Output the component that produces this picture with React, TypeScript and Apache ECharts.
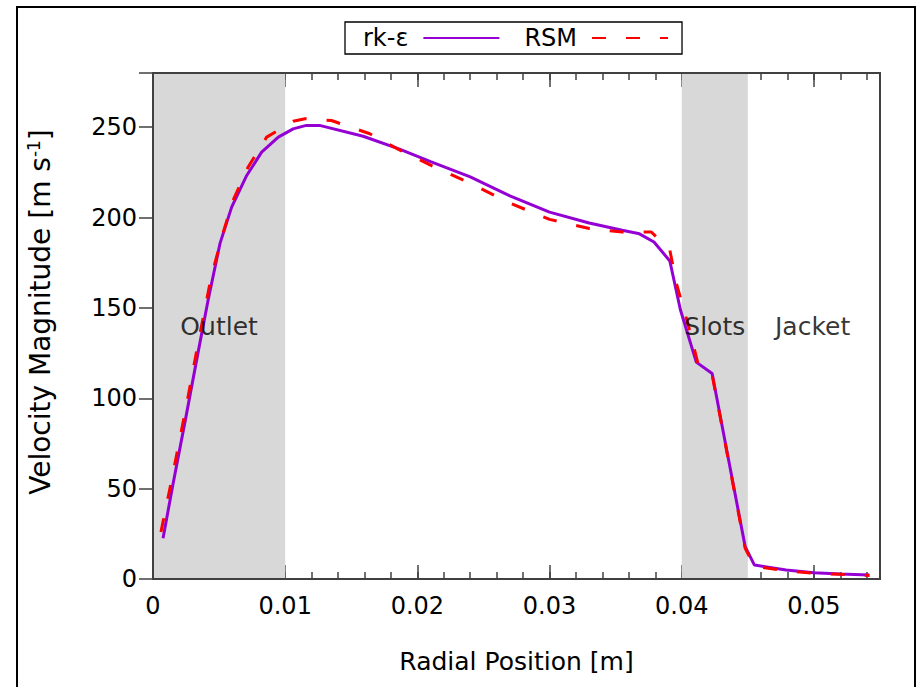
import React, { useEffect, useRef } from "react";
import * as echarts from "echarts";

// rk-epsilon model: radial position [m] and velocity magnitude [m/s]
const rkX = [0.00076, 0.0015, 0.0025, 0.0034, 0.00416, 0.00507, 0.00595, 0.00709, 0.00822, 0.00948, 0.0106, 0.0116, 0.0126, 0.0159, 0.0186, 0.021, 0.024, 0.027, 0.03, 0.033, 0.0355, 0.0368, 0.0379, 0.0391, 0.0399, 0.0411, 0.0423, 0.0435, 0.0448, 0.0455, 0.0479, 0.05, 0.052, 0.0542];
const rkV = [22.6, 52, 90, 125, 154, 185.7, 205.8, 223.3, 236.2, 244.5, 249.1, 251, 251, 245, 238, 231, 222.5, 212, 203, 197, 193, 191, 186.5, 176, 149, 120, 113.7, 67.6, 17.9, 7.7, 5, 3.5, 2.8, 2.2];

// RSM model
const rsmX = [0.0006, 0.0015, 0.0025, 0.0034, 0.0044, 0.0052, 0.00605, 0.0072, 0.0086, 0.0106, 0.0115, 0.0135, 0.0164, 0.0185, 0.021, 0.024, 0.027, 0.03, 0.033, 0.0355, 0.0377, 0.0391, 0.0396, 0.0405, 0.0412, 0.0423, 0.0435, 0.0448, 0.0455, 0.0479, 0.05, 0.052, 0.0542];
const rsmV = [26, 58, 95, 130, 167, 189, 209.5, 228, 244.5, 253.3, 254.7, 253.7, 246.4, 238, 229, 219, 208, 199, 194, 192, 192, 182, 163.5, 140.4, 120, 113, 67, 17, 7, 4.5, 3.2, 2.6, 2.0];

// shaded regions (x ranges) and region labels
const shadedStart = [0, 0.04];
const shadedEnd = [0.01, 0.045];
const regionNames = ["Outlet", "Slots", "Jacket"];
const regionLabelX = [0.005, 0.0425, 0.0499];
const regionLabelY = [140, 140, 140];

const seriesNames = ["rk-ε", "RSM"];

const FONT = "DejaVu Sans";
const AXIS_COLOR = "#404040";

export default function App() {
  const ref = useRef<HTMLDivElement>(null);

  useEffect(() => {
    if (!ref.current) return;
    const chart = echarts.init(ref.current, undefined, { renderer: "svg" });

    const rkData = rkX.map((x, i) => [x, rkV[i]]);
    const rsmData = rsmX.map((x, i) => [x, rsmV[i]]);
    const labelData = regionNames.map((n, i) => [regionLabelX[i], regionLabelY[i], n]);
    const areas = shadedStart.map((s, i) => [{ xAxis: s }, { xAxis: shadedEnd[i] }]);

    const tickAxisBase = {
      type: "value" as const,
      min: 0,
      max: 0.055,
      axisLine: { show: false },
      splitLine: { show: false },
      axisLabel: { show: false },
    };

    const option: any = {
      animation: false,
      backgroundColor: "#fff",
      grid: { left: 153, top: 73, right: 40, bottom: 108, containLabel: false },
      legend: {
        left: 345,
        top: 22,
        orient: "horizontal",
        align: "right",
        itemWidth: 76,
        itemHeight: 20,
        itemGap: 24,
        borderColor: "#000",
        borderWidth: 1.3,
        padding: [4, 13, 4, 18],
        itemStyle: { opacity: 0 },
        textStyle: { fontSize: 24, color: "#000", fontFamily: FONT, padding: [0, 10, 0, 0] },
        data: seriesNames,
      },
      xAxis: [
        {
          type: "value",
          min: 0,
          max: 0.055,
          interval: 0.01,
          position: "bottom",
          name: "Radial Position [m]",
          nameLocation: "middle",
          nameGap: 70,
          nameTextStyle: { fontSize: 25, color: "#000", fontFamily: FONT },
          axisLine: { show: false },
          axisTick: { show: true, inside: true, length: 14, lineStyle: { color: AXIS_COLOR, width: 1.5 } },
          axisLabel: { fontSize: 24, color: "#000", fontFamily: FONT, margin: 15, showMaxLabel: false },
          splitLine: { show: false },
        },
        {
          ...tickAxisBase,
          interval: 0.002,
          position: "bottom",
          axisTick: { show: true, inside: true, length: 7, lineStyle: { color: AXIS_COLOR, width: 1.5 } },
        },
        {
          ...tickAxisBase,
          interval: 0.01,
          position: "top",
          axisTick: { show: true, inside: true, length: 14, lineStyle: { color: AXIS_COLOR, width: 1.5 } },
        },
        {
          ...tickAxisBase,
          interval: 0.002,
          position: "top",
          axisTick: { show: true, inside: true, length: 7, lineStyle: { color: AXIS_COLOR, width: 1.5 } },
        },
      ],
      yAxis: [
        {
          type: "value",
          min: 0,
          max: 280,
          interval: 50,
          position: "left",
          name: "Velocity Magnitude [m s{sup|-1}]",
          nameLocation: "middle",
          nameGap: 97,
          nameRotate: 90,
          nameTextStyle: {
            fontSize: 28,
            color: "#000",
            fontFamily: FONT,
            padding: [0, 0, 0, 28],
            rich: {
              sup: { fontSize: 17, color: "#000", fontFamily: FONT, verticalAlign: "top", padding: [0, 0, 14, 0] },
            },
          },
          axisLine: { show: false },
          axisTick: { show: true, inside: true, length: 14, lineStyle: { color: AXIS_COLOR, width: 1.5 } },
          axisLabel: { fontSize: 24, color: "#000", fontFamily: FONT, margin: 16, showMaxLabel: false },
          splitLine: { show: false },
        },
        {
          type: "value",
          min: 0,
          max: 280,
          interval: 50,
          position: "right",
          axisLine: { show: false },
          axisTick: { show: true, inside: true, length: 14, lineStyle: { color: AXIS_COLOR, width: 1.5 } },
          axisLabel: { show: false },
          splitLine: { show: false },
        },
      ],
      series: [
        {
          name: "shade",
          type: "line",
          data: [],
          z: 1,
          silent: true,
          markArea: {
            silent: true,
            itemStyle: { color: "#d8d8d8", opacity: 1 },
            data: areas,
          },
        },
        {
          name: seriesNames[0],
          type: "line",
          data: rkData,
          symbol: "none",
          showSymbol: false,
          z: 3,
          lineStyle: { color: "#9400d3", width: 3 },
          itemStyle: { color: "#9400d3" },
        },
        {
          name: seriesNames[1],
          type: "line",
          data: rsmData,
          symbol: "none",
          showSymbol: false,
          z: 4,
          lineStyle: { color: "#ff0000", width: 3, type: [14, 20] },
          itemStyle: { color: "#ff0000" },
        },
        {
          name: "regions",
          type: "scatter",
          data: labelData,
          symbolSize: 0,
          z: 5,
          silent: true,
          label: {
            show: true,
            position: "inside",
            formatter: (p: any) => p.value[2],
            fontSize: 25,
            color: "#000",
            fontFamily: FONT,
          },
        },
      ],
      graphic: [
        {
          type: "rect",
          z: 100,
          silent: true,
          shape: { x: 153, y: 73, width: 727, height: 506 },
          style: { fill: "none", stroke: AXIS_COLOR, lineWidth: 2 },
        },
        {
          type: "rect",
          z: 100,
          silent: true,
          shape: { x: 17, y: 7, width: 898, height: 700 },
          style: { fill: "none", stroke: "#000", lineWidth: 2 },
        },
      ],
    };

    chart.setOption(option);
    return () => chart.dispose();
  }, []);

  return (
    <div
      ref={ref}
      style={{ position: "absolute", left: 0, top: 0, width: 920, height: 687, background: "#fff" }}
    />
  );
}
